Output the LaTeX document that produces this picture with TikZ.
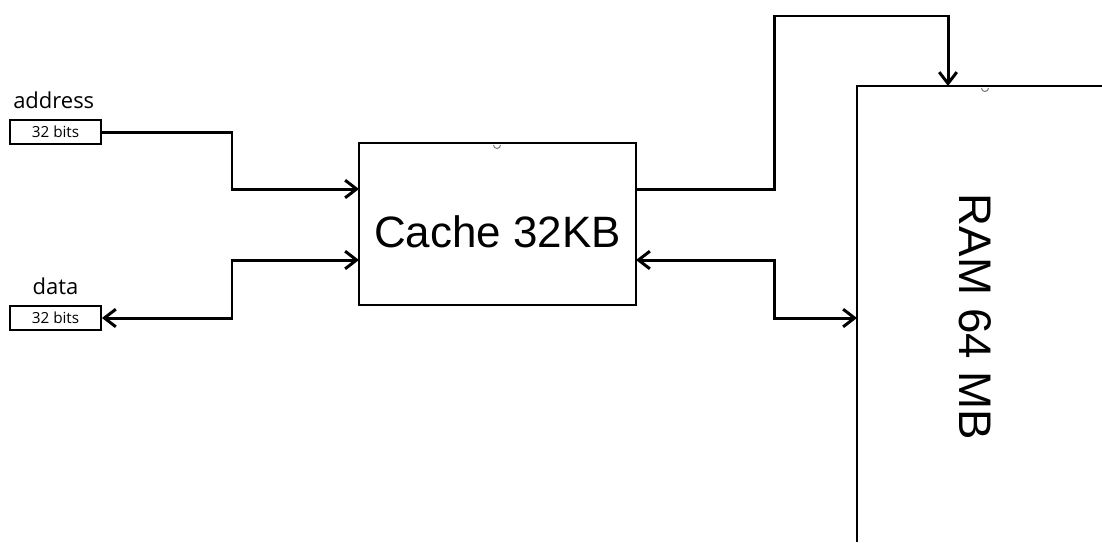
\documentclass[tikz,border=0pt]{standalone}
\usepackage{fontspec}
\setmainfont{Liberation Sans}
\newfontfamily\labelfont{Open Sans}
\usetikzlibrary{positioning,arrows.meta,calc}
\tikzset{
  block/.style={draw, line width=1.2pt, minimum width=5.54cm, minimum height=3.24cm,
                inner sep=0pt, text height=27pt, text depth=0pt, font=\fontsize{25}{30}\selectfont},
  bitbox/.style={draw, line width=1.1pt, minimum width=1.82cm, minimum height=0.48cm,
                 inner sep=0pt, font=\labelfont\fontsize{8.7}{10}\selectfont},
  sig/.style={font=\labelfont\fontsize{12.5}{15}\selectfont, inner sep=0pt},
  bus/.style={line width=1.7pt},
  tip/.style={-{Straight Barb[length=6.5pt,width=10pt]}},
  both/.style={{Straight Barb[length=6.5pt,width=10pt]}-{Straight Barb[length=6.5pt,width=10pt]}},
  notch/.style={gray, line width=0.6pt}
}

\begin{document}
\begin{tikzpicture}[x=0.02cm, y=-0.02cm]
        \fill[white] (0,0) rectangle (1102,542);
        \useasboundingbox (0,0) rectangle (1102,542);
        % cache and the two 32 bit ports
        \node[block] (cache) at (497.5,224) {Cache 32KB};
        \node[bitbox] (addr) at (55.5,132) {32 bits};
        \node[bitbox] (data) at (55.5,318) {32 bits};
        \node[sig, above=5.5pt of addr, xshift=-1pt] (addrlbl) {address};
        \node[sig, above=5.5pt of data] (datalbl) {data};
        \draw[notch] (493.5,145) arc (180:0:3.5);
        % RAM, cut off at the right and bottom
        \draw[line width=1.2pt] (1102,86) -- (857,86) -- (857,542);
        \draw[notch] (981.5,88) arc (180:0:3.5);
        \node[rotate=-90, font=\fontsize{26}{30}\selectfont] (ramlbl) at (975,317) {RAM 64 MB};
        \coordinate (ramtop) at (948,86);
        \coordinate (ramin) at (857,318);
        \coordinate (cin1) at (359,189);  \coordinate (cin2) at (359,260);
        \coordinate (cout1) at (636,189); \coordinate (cout2) at (636,260);
        % buses
        \draw[bus, tip] (addr.east) -| (232,189) -- (cin1);
        \draw[bus, both] (data.east) -| (232,260) -- (cin2);
        \draw[bus, tip] (cout1) -| (774,16) -| (ramtop);
        \draw[bus, both] (cout2) -| (774,318) -- (ramin);
\end{tikzpicture}
\end{document}
